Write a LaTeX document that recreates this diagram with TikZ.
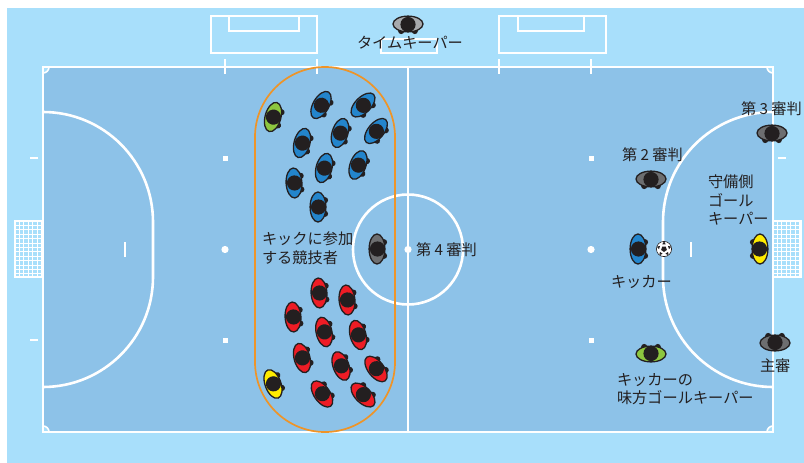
\documentclass[tikz,border=0pt]{standalone}
\usepackage{fontspec}
\setmainfont{Noto Sans CJK JP}
\definecolor{bgblue}{HTML}{A8DFFB}
\definecolor{fieldblue}{HTML}{8DC2E8}
\definecolor{ink}{HTML}{231F20}
\definecolor{orangeline}{HTML}{EE9428}
\definecolor{pblue}{HTML}{2385CC}
\definecolor{pred}{HTML}{EE1C25}
\definecolor{pgreen}{HTML}{8DC63F}
\definecolor{pyellow}{HTML}{FFEC00}
\definecolor{pgray}{HTML}{6D6E70}
\definecolor{plight}{HTML}{A7A9AC}
\tikzset{
  line/.style={draw=white,line width=2.6pt},
  label/.style={text=ink,font=\fontsize{15.2}{18.7}\selectfont,align=left,anchor=west,inner sep=0pt,outer sep=0pt},
}
% \player{x}{y}{rotation}{colour}: figure seen from above, hands on its facing side
\newcommand{\player}[4]{%
  \begin{scope}[shift={(#1,#2)},rotate=#3]
    \fill[ink] (7,-6.8) circle (3.1) (7,6.8) circle (3.1);
    \filldraw[fill=#4,draw=ink,line width=1.3pt] (0,0) ellipse (7.9 and 15);
    \fill[ink] (0.5,0) circle (7.6);
  \end{scope}}
\begin{document}
\begin{tikzpicture}[x=1pt,y=-1pt]
\useasboundingbox (0,0) rectangle (804,463);
\fill[bgblue] (7,8) rectangle (804,463);
\fill[fieldblue] (43,67) rectangle (773,432);
% nets
\foreach \gx in {15,773}{
  \begin{scope}[shift={(\gx,221)}]
    \foreach \i in {4.4,8.8,...,27} \draw[white,line width=1pt] (\i,0) -- (\i,56);
    \foreach \i in {4.4,8.8,...,55} \draw[white,line width=1pt] (0,\i) -- (28,\i);
    \draw[line] (0,0) rectangle (28,56);
  \end{scope}}
% benches above the field
\draw[line] (211,16) rectangle (317,53);
\draw[line] (229,16) rectangle (299,31);
\draw[line] (499,16) rectangle (606,53);
\draw[line] (518,16) rectangle (584,31);
\draw[line] (381,39) rectangle (437,53);
% corners
\foreach \cx/\cy/\sx/\sy in {43/67/1/1,773/67/-1/1,43/432/1/-1,773/432/-1/-1}
  \filldraw[fill=bgblue,draw=white,line width=1.6pt,shift={(\cx,\cy)},xscale=\sx,yscale=\sy] (0,0) -- (6,0) .. controls (6,3.3) and (3.3,6) .. (0,6) -- cycle;
% field
\draw[line] (43,67) rectangle (773,432);
\draw[line] (408,67) -- (408,432);
\draw[line] (408,249.5) circle (55);
\draw[line] (43,112) arc[start angle=90,end angle=0,x radius=110,y radius=-110] -- (153,277) arc[start angle=0,end angle=-90,x radius=110,y radius=-110];
\draw[line] (773,112) arc[start angle=90,end angle=180,x radius=110,y radius=-110] -- (663,277) arc[start angle=180,end angle=270,x radius=110,y radius=-110];
% marks
\foreach \mx in {225,317,499,591} \draw[line] (\mx,59) -- (\mx,74);
\foreach \mx in {125,691} \draw[line] (\mx,242) -- (\mx,257);
\foreach \mx in {30,778} \foreach \my in {158,340} \draw[line] (\mx,\my) -- ++(8,0);
\foreach \mx in {225,591} {
  \fill[white] (\mx,249.5) circle (3.6);
  \foreach \my in {158,340} \fill[white] (\mx-2.5,\my-2.5) rectangle (\mx+2.5,\my+2.5);}
\fill[white] (408,249.5) circle (3.6);
% orange group outline
\draw[orangeline,line width=1.7pt] (255,137) arc[start angle=180,end angle=0,x radius=70,y radius=-70] -- (395,362) arc[start angle=0,end angle=-180,x radius=70,y radius=-70] -- cycle;
% blue team
\player{273}{117}{-15}{pgreen}
\player{321}{105}{-30}{pblue}
\player{363}{105}{-45}{pblue}
\player{340}{133}{-17}{pblue}
\player{376}{131}{-40}{pblue}
\player{302}{143}{-15}{pblue}
\player{324}{168}{-15}{pblue}
\player{358}{165}{-20}{pblue}
\player{294}{183}{3}{pblue}
\player{318}{207}{0}{pblue}
% red team
\player{319}{293}{3}{pred}
\player{347}{300}{5}{pred}
\player{293}{317}{3}{pred}
\player{324}{332}{12}{pred}
\player{358}{335}{15}{pred}
\player{302}{358}{15}{pred}
\player{341}{366}{20}{pred}
\player{376}{369}{38}{pred}
\player{322}{394}{35}{pred}
\player{363}{395}{45}{pred}
\player{273}{384}{20}{pyellow}
% others
\player{377}{249}{0}{pgray}
\player{638}{249}{0}{pblue}
\player{760}{249}{180}{pyellow}
\player{651}{179}{-90}{pgray}
\player{772}{133}{-90}{pgray}
\player{775}{343}{90}{pgray}
\player{651}{354}{90}{pgreen}
\player{408}{24}{-90}{plight}
% ball
\begin{scope}[shift={(664,249)}]
  \filldraw[fill=white,draw=ink,line width=0.6pt] (0,0) circle (7.6);
  \fill[ink] (90:3) -- (162:3) -- (234:3) -- (306:3) -- (18:3) -- cycle;
  \foreach \a in {90,162,234,306,18}
    \fill[ink] (\a+180:7.6) -- (\a+160:5) -- (\a+200:5) -- cycle;
\end{scope}
% labels
\node[label] (tk) at (357,42.5) {タイムキーパー};
\node[label] (r3) at (741,108.5) {第 3 審判};
\node[label] (r2) at (622,154.5) {第 2 審判};
\node[label] (r4) at (416,249.5) {第 4 審判};
\node[label] (gk) at (708,200) {守備側\\ゴール\\キーパー};
\node[label] (grp) at (262,248) {キックに参加\\する競技者};
\node[label] (kick) at (611,282.5) {キッカー};
\node[label] (mr) at (760,365.5) {主審};
\node[label] (mate) at (617,389) {キッカーの\\味方ゴールキーパー};
\end{tikzpicture}
\end{document}
